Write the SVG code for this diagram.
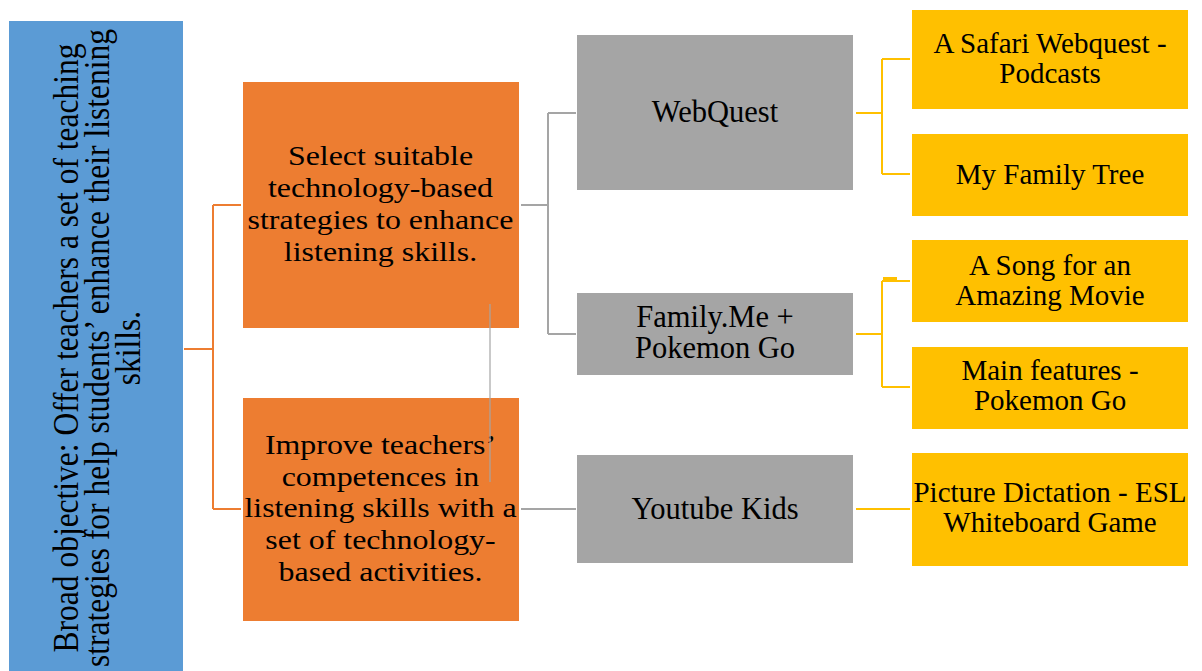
<svg xmlns="http://www.w3.org/2000/svg" width="1202" height="671" viewBox="0 0 1202 671">
  <style>
    .t { font-family: "Liberation Serif", "Times New Roman", serif; fill: #000; text-anchor: middle; }
    .blue { fill: #5B9BD5; }
    .orange { fill: #ED7D31; }
    .gray { fill: #A5A5A5; }
    .yellow { fill: #FFC000; }
    .edge { fill: none; stroke-width: 2; }
    .e-or { stroke: #ED7D31; }
    .e-gr { stroke: #A5A5A5; }
    .e-ye { stroke: #FFC000; }
  </style>
  <rect width="1202" height="671" fill="#fff"/>

  <!-- root objective -->
  <g id="node-objective">
    <rect class="blue" x="9" y="21" width="174" height="660"/>
    <text class="t" font-size="31.5" transform="translate(78,348) scale(1.15,1) rotate(-90)">Broad objective: Offer teachers a set of teaching</text>
    <text class="t" font-size="31.5" transform="translate(109,348) scale(1.15,1) rotate(-90)">strategies for help students’ enhance their listening</text>
    <text class="t" font-size="31.5" transform="translate(140,348) scale(1.15,1) rotate(-90)">skills.</text>
  </g>

  <!-- second level -->
  <g id="node-select">
    <rect class="orange" x="243" y="82" width="276" height="246"/>
    <g transform="translate(380.5,0) scale(1.14,1)">
      <text class="t" font-size="28" x="0" y="165">Select suitable</text>
      <text class="t" font-size="28" x="0" y="197">technology-based</text>
      <text class="t" font-size="28" x="0" y="229">strategies to enhance</text>
      <text class="t" font-size="28" x="0" y="261">listening skills.</text>
    </g>
  </g>
  <g id="node-improve">
    <rect class="orange" x="243" y="398" width="276" height="223"/>
    <g transform="translate(380.5,0) scale(1.14,1)">
      <text class="t" font-size="28" x="0" y="454">Improve teachers’</text>
      <text class="t" font-size="28" x="0" y="486">competences in</text>
      <text class="t" font-size="28" x="0" y="517">listening skills with a</text>
      <text class="t" font-size="28" x="0" y="549">set of technology-</text>
      <text class="t" font-size="28" x="0" y="581">based activities.</text>
    </g>
  </g>

  <!-- third level -->
  <g id="node-webquest">
    <rect class="gray" x="577" y="35" width="276" height="155"/>
    <text class="t" font-size="30.5" x="715" y="122">WebQuest</text>
  </g>
  <g id="node-familyme">
    <rect class="gray" x="577" y="293" width="276" height="82"/>
    <text class="t" font-size="30.5" x="715" y="327">Family.Me +</text>
    <text class="t" font-size="30.5" x="715" y="358">Pokemon Go</text>
  </g>
  <g id="node-youtube">
    <rect class="gray" x="577" y="455" width="276" height="108"/>
    <text class="t" font-size="30.5" x="715" y="519">Youtube Kids</text>
  </g>

  <!-- activities -->
  <g id="node-safari">
    <rect class="yellow" x="912" y="10" width="276" height="99"/>
    <text class="t" font-size="29" x="1050" y="53">A Safari Webquest -</text>
    <text class="t" font-size="29" x="1050" y="83">Podcasts</text>
  </g>
  <g id="node-familytree">
    <rect class="yellow" x="912" y="134" width="276" height="82"/>
    <text class="t" font-size="29" x="1050" y="184">My Family Tree</text>
  </g>
  <g id="node-song">
    <rect class="yellow" x="912" y="240" width="276" height="82"/>
    <text class="t" font-size="29" x="1050" y="275">A Song for an</text>
    <text class="t" font-size="29" x="1050" y="305">Amazing Movie</text>
  </g>
  <g id="node-pokemon">
    <rect class="yellow" x="912" y="347" width="276" height="82"/>
    <text class="t" font-size="29" x="1050" y="380">Main features -</text>
    <text class="t" font-size="29" x="1050" y="410">Pokemon Go</text>
  </g>
  <g id="node-dictation">
    <rect class="yellow" x="912" y="453" width="276" height="113"/>
    <text class="t" font-size="29" x="1050" y="502">Picture Dictation - ESL</text>
    <text class="t" font-size="29" x="1050" y="532">Whiteboard Game</text>
  </g>

  <!-- connectors, drawn last so the stray thin line sits over the orange boxes -->
  <g id="connectors">
    <path class="edge e-or" d="M184 349 H213 M213 205 V509 M213 205 H241 M213 509 H241"/>
    <path class="edge e-gr" d="M521 205 H548 M548 113 V334 M548 113 H576 M548 334 H576 M521 509 H576"/>
    <line x1="490" y1="304" x2="490" y2="482" stroke="#A5A5A5" stroke-width="1.2"/>
    <path class="edge e-ye" d="M856 113 H882 M882 59 V174 M882 59 H910 M882 174 H910"/>
    <path class="edge e-ye" d="M856 334 H882 M882 281 V387 M882 281 H910 M882 387 H910"/>
    <rect x="883" y="277" width="14" height="3" fill="#FFC000"/>
    <path class="edge e-ye" d="M856 509 H910"/>
  </g>
</svg>
